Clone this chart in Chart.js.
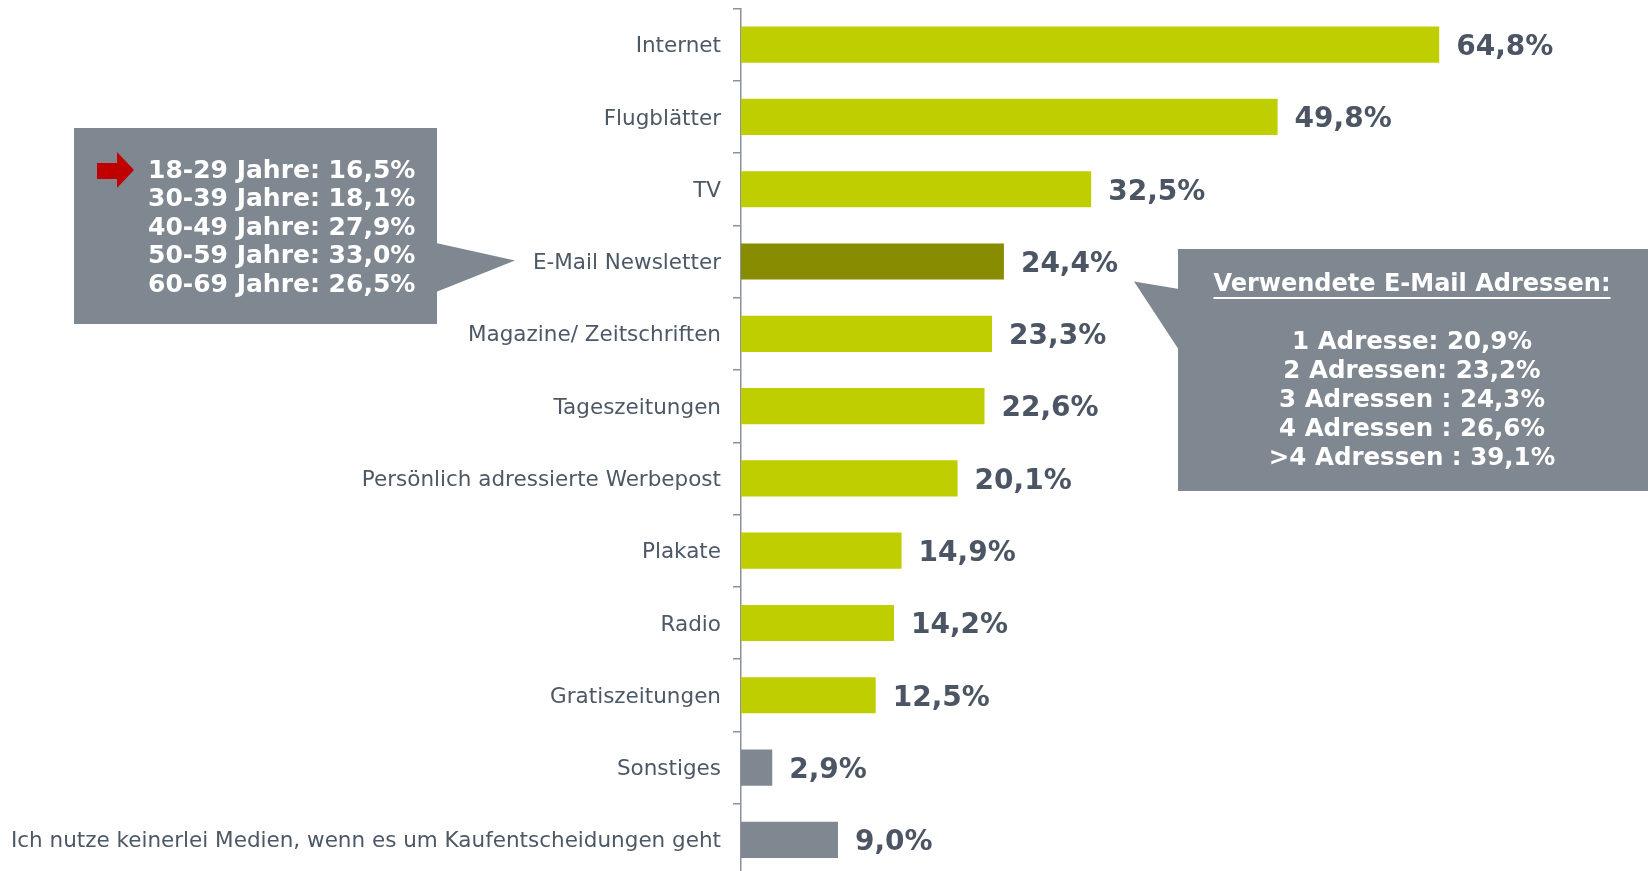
<!DOCTYPE html>
<html>
<head>
<meta charset="utf-8">
<script src="https://cdn.jsdelivr.net/npm/chart.js@4/dist/chart.umd.min.js"></script>
<style>
  html, body { margin: 0; padding: 0; background: #fff; overflow: hidden; }
  #wrap { width: 1648px; height: 876px; }
</style>
</head>
<body>
<div id="wrap"><canvas id="chart"></canvas></div>
<script>
// ===== Daten =====
const categories = [
  'Internet', 'Flugblätter', 'TV', 'E-Mail Newsletter', 'Magazine/ Zeitschriften',
  'Tageszeitungen', 'Persönlich adressierte Werbepost', 'Plakate', 'Radio',
  'Gratiszeitungen', 'Sonstiges', 'Ich nutze keinerlei Medien, wenn es um Kaufentscheidungen geht'
];
const values = [64.8, 49.8, 32.5, 24.4, 23.3, 22.6, 20.1, 14.9, 14.2, 12.5, 2.9, 9.0];
const barColors = [
  '#bfce00', '#bfce00', '#bfce00', '#878c00', '#bfce00', '#bfce00',
  '#bfce00', '#bfce00', '#bfce00', '#bfce00', '#7f8790', '#7f8790'
];
const ageLines = [
  '18-29 Jahre: 16,5%', '30-39 Jahre: 18,1%', '40-49 Jahre: 27,9%',
  '50-59 Jahre: 33,0%', '60-69 Jahre: 26,5%'
];
const mailTitle = 'Verwendete E-Mail Adressen:';
const mailLines = [
  '1 Adresse: 20,9%', '2 Adressen: 23,2%', '3 Adressen : 24,3%',
  '4 Adressen : 26,6%', '>4 Adressen : 39,1%'
];

const FONT = '"DejaVu Sans", Verdana, sans-serif';
const BOX = '#7f8790';

// Wertebeschriftung rechts neben den Balken
const valueLabels = {
  id: 'valueLabels',
  afterDatasetsDraw(chart) {
    const ctx = chart.ctx;
    const meta = chart.getDatasetMeta(0);
    ctx.save();
    ctx.font = 'bold 28px ' + FONT;
    ctx.fillStyle = '#4b5563';
    ctx.textAlign = 'left';
    ctx.textBaseline = 'middle';
    meta.data.forEach((bar, i) => {
      const txt = values[i].toFixed(1).replace('.', ',') + '%';
      ctx.fillText(txt, bar.x + 17, bar.y + 3);
    });
    ctx.restore();
  }
};

// Sprechblasen
const callouts = {
  id: 'callouts',
  afterDraw(chart) {
    const ctx = chart.ctx;
    const y = chart.scales.y;
    const yMail = y.getPixelForValue(3);
    ctx.save();

    // linke Box (Altersgruppen)
    ctx.fillStyle = BOX;
    ctx.beginPath();
    ctx.rect(74, 128, 363, 196);
    ctx.fill();
    ctx.beginPath();
    ctx.moveTo(436, 243);
    ctx.lineTo(515, yMail - 1);
    ctx.lineTo(436, 292);
    ctx.closePath();
    ctx.fill();

    // roter Pfeil
    ctx.fillStyle = '#c00000';
    ctx.beginPath();
    ctx.moveTo(97, 163);
    ctx.lineTo(117, 163);
    ctx.lineTo(117, 152);
    ctx.lineTo(134, 170);
    ctx.lineTo(117, 188);
    ctx.lineTo(117, 179);
    ctx.lineTo(97, 179);
    ctx.closePath();
    ctx.fill();

    ctx.fillStyle = '#ffffff';
    ctx.font = 'bold 25px ' + FONT;
    ctx.textBaseline = 'middle';
    ctx.textAlign = 'left';
    ageLines.forEach((t, i) => ctx.fillText(t, 148, 171 + i * 28.6));

    // rechte Box (E-Mail Adressen)
    ctx.fillStyle = BOX;
    ctx.beginPath();
    ctx.rect(1178, 249, 470, 242);
    ctx.fill();
    ctx.beginPath();
    ctx.moveTo(1179, 289);
    ctx.lineTo(1134, yMail + 20);
    ctx.lineTo(1179, 350);
    ctx.closePath();
    ctx.fill();

    ctx.fillStyle = '#ffffff';
    ctx.textAlign = 'center';
    ctx.font = 'bold 24px ' + FONT;
    const cx = 1412;
    ctx.fillText(mailTitle, cx, 285);
    const w = ctx.measureText(mailTitle).width;
    ctx.fillRect(cx - w / 2, 297, w, 2);
    ctx.font = 'bold 24.5px ' + FONT;
    mailLines.forEach((t, i) => ctx.fillText(t, cx, 343 + i * 28.8));

    ctx.restore();
  }
};

new Chart(document.getElementById('chart'), {
  type: 'bar',
  data: {
    labels: categories,
    datasets: [{
      data: values,
      backgroundColor: barColors,
      borderWidth: 0,
      categoryPercentage: 1,
      barPercentage: 0.5
    }]
  },
  options: {
    indexAxis: 'y',
    responsive: true,
    maintainAspectRatio: false,
    animation: false,
    layout: { padding: { top: 8.5, right: 45, bottom: 0, left: 0 } },
    plugins: {
      legend: { display: false },
      tooltip: { enabled: false }
    },
    scales: {
      x: {
        display: false,
        min: 0,
        max: 80
      },
      y: {
        afterFit: (scale) => {
          scale.width = 741;
          scale.paddingTop = 0;
          scale.paddingBottom = 0;
        },
        border: { display: true, color: '#8a929c', width: 1.5 },
        grid: {
          display: true,
          drawOnChartArea: false,
          drawTicks: true,
          tickLength: 8,
          color: '#8a929c',
          lineWidth: 1.5,
          offset: true
        },
        ticks: {
          padding: 12,
          labelOffset: 2,
          color: '#4d5866',
          font: { family: FONT, size: 21.5 }
        }
      }
    }
  },
  plugins: [valueLabels, callouts]
});
</script>
</body>
</html>
